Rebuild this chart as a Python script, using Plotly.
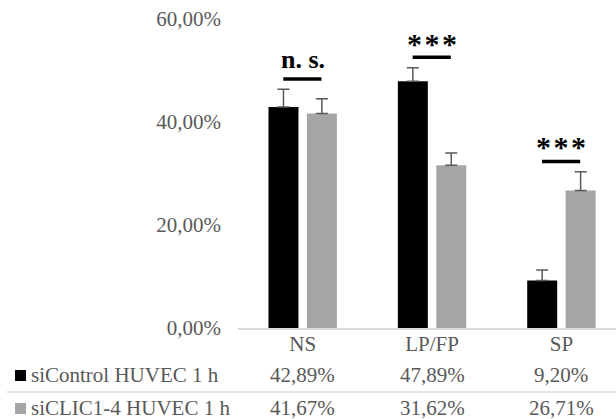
import plotly.graph_objects as go

categories = ["NS", "LP/FP", "SP"]
series_names = ["siControl HUVEC 1 h", "siCLIC1-4 HUVEC 1 h"]
control_vals = [42.89, 47.89, 9.20]
clic_vals = [41.67, 31.62, 26.71]
control_err = [3.46, 2.66, 2.06]
clic_err = [2.86, 2.36, 3.64]
sig_labels = ["n. s.", "***", "***"]
y_tickvals = [0, 20, 40, 60]
y_ticktext = ["0,00%", "20,00%", "40,00%", "60,00%"]

W, H = 616, 419
L, R, T, B = 238, 0, 19, 91
PW, PH = W - L - R, H - T - B
FONT = "Times New Roman, Liberation Serif, serif"
colors = ["#000000", "#a5a5a5"]


def px_x(px):
    return (px - L) / PW


def px_y(py):
    return (H - B - py) / PH


def fmt(v):
    return f"{v:.2f}".replace(".", ",") + "%"


fig = go.Figure()
for name, vals, errs, col in [
    (series_names[0], control_vals, control_err, colors[0]),
    (series_names[1], clic_vals, clic_err, colors[1]),
]:
    fig.add_trace(go.Bar(
        x=categories, y=vals, name=name,
        marker=dict(color=col, line=dict(width=0)),
        error_y=dict(type="data", symmetric=False, array=errs,
                     arrayminus=[0] * len(errs), color="#595959",
                     thickness=1.5, width=6),
        showlegend=False, hoverinfo="skip",
    ))

shapes = []
annotations = []

# significance bars and labels
text_off = [3.7, 2.7, 2.8]
for i, lab in enumerate(sig_labels):
    top = max(control_vals[i] + control_err[i], clic_vals[i] + clic_err[i])
    ly = top + 2
    shapes.append(dict(type="line", xref="x", yref="y",
                       x0=i - 0.15, x1=i + 0.145, y0=ly, y1=ly,
                       line=dict(color="black", width=3.5)))
    if lab == "***":
        txt, size = "*\u200a*\u200a*", 30
    else:
        txt, size = lab, 26
    annotations.append(dict(xref="x", yref="y", x=i, y=ly + text_off[i],
                            text=f"<b>{txt}</b>", showarrow=False,
                            xanchor="center", yanchor="middle",
                            font=dict(family=FONT, size=size, color="black")))

# data table below the chart
row_y = [375, 408]
for r, (name, vals) in enumerate([(series_names[0], control_vals),
                                  (series_names[1], clic_vals)]):
    yc = row_y[r]
    shapes.append(dict(type="rect", xref="paper", yref="paper",
                       x0=px_x(15), x1=px_x(26), y0=px_y(yc - 5), y1=px_y(yc + 6),
                       fillcolor=colors[r], line=dict(width=0)))
    annotations.append(dict(xref="paper", yref="paper", x=px_x(29), y=px_y(yc),
                            text=name, showarrow=False, xanchor="left",
                            yanchor="middle",
                            font=dict(family=FONT, size=21, color="#595959")))
    for i, v in enumerate(vals):
        annotations.append(dict(xref="x", yref="paper", x=i, y=px_y(yc),
                                text=fmt(v), showarrow=False, xanchor="center",
                                yanchor="middle",
                                font=dict(family=FONT, size=21, color="#595959")))

shapes.append(dict(type="line", xref="paper", yref="paper",
                   x0=px_x(7), x1=1.0, y0=px_y(392), y1=px_y(392),
                   line=dict(color="#d9d9d9", width=1.5)))

fig.update_layout(
    width=W, height=H,
    margin=dict(l=L, r=R, t=T, b=B, pad=0),
    paper_bgcolor="white", plot_bgcolor="white",
    barmode="group", bargap=0.406, bargroupgap=0.22,
    shapes=shapes, annotations=annotations,
    font=dict(family=FONT, size=21, color="#595959"),
    xaxis=dict(type="category", range=[-0.5, 2.422], showline=True,
               linecolor="#d9d9d9", linewidth=1.5, showgrid=False,
               ticks="", ticklabelstandoff=-4,
               tickfont=dict(family=FONT, size=21, color="#595959"),
               zeroline=False),
    yaxis=dict(range=[0, 60], tickvals=y_tickvals, ticktext=y_ticktext,
               showgrid=False, zeroline=False, showline=False, ticks="",
               ticklabelstandoff=16,
               tickfont=dict(family=FONT, size=21, color="#595959")),
)

fig.write_html("out.html", config={"displayModeBar": False},
               post_script="document.body.style.margin='0';document.body.style.overflow='hidden';")
